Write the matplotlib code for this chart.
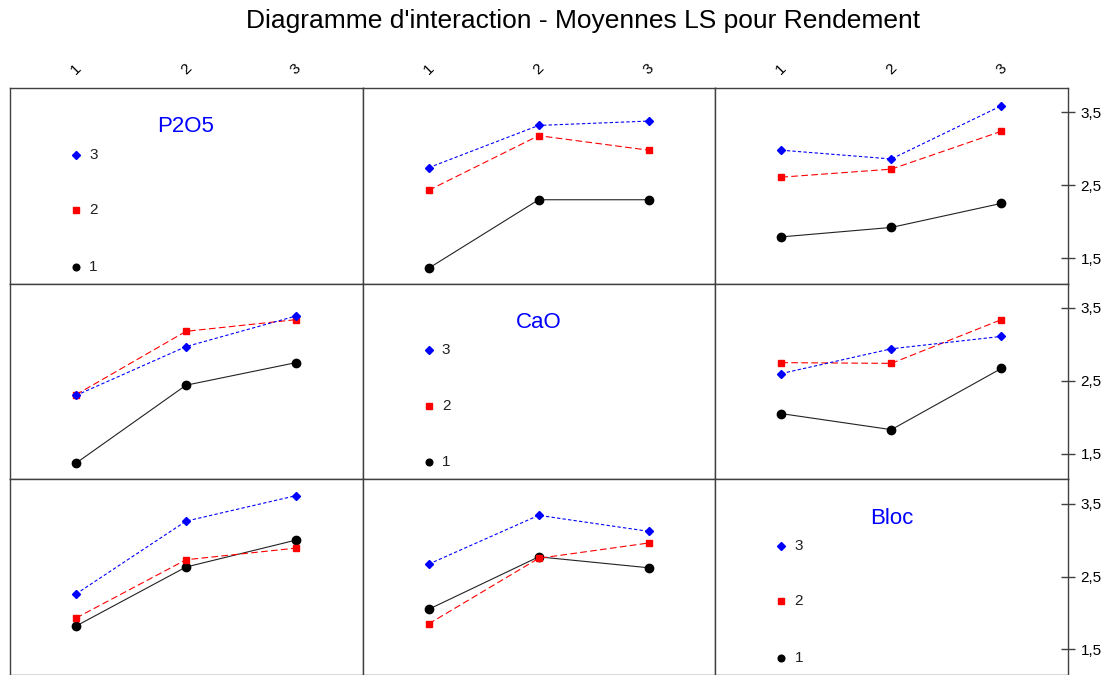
import matplotlib
matplotlib.use("Agg")
from matplotlib import pyplot as plt

plt.rcParams['font.family'] = ['Liberation Sans', 'DejaVu Sans']

factors = ['P2O5', 'CaO', 'Bloc']
levels = ['1', '2', '3']
yticks = [1.5, 2.5, 3.5]
ytick_labels = ['1,5', '2,5', '3,5']

# LS means: means[(row, col)] = series per level of row factor, x = level of column factor
means = {
    (0, 1): {'1': [1.36, 2.30, 2.30], '2': [2.43, 3.18, 2.98], '3': [2.74, 3.32, 3.38]},
    (0, 2): {'1': [1.79, 1.92, 2.25], '2': [2.61, 2.72, 3.24], '3': [2.98, 2.86, 3.59]},
    (1, 0): {'1': [1.37, 2.44, 2.75], '2': [2.31, 3.18, 3.34], '3': [2.30, 2.97, 3.39]},
    (1, 2): {'1': [2.05, 1.83, 2.67], '2': [2.75, 2.74, 3.34], '3': [2.60, 2.94, 3.11]},
    (2, 0): {'1': [1.82, 2.63, 3.00], '2': [1.93, 2.73, 2.89], '3': [2.26, 3.26, 3.61]},
    (2, 1): {'1': [2.05, 2.77, 2.62], '2': [1.85, 2.75, 2.96], '3': [2.67, 3.34, 3.12]},
}

styles = {
    '1': dict(color='#222222', ls='-', marker='o', ms=6, mfc='black', mec='black'),
    '2': dict(color='red', ls=(0, (6, 3)), marker='s', ms=5, mfc='red', mec='red'),
    '3': dict(color='blue', ls=(0, (3, 2)), marker='D', ms=4.5, mfc='blue', mec='blue'),
}
legend_y = {'1': 1.38, '2': 2.16, '3': 2.92}

fig = plt.figure(figsize=(11.05, 6.75), dpi=100)
W, H = 1105.0, 675.0
left, right, top, bottom = 10, 1068, 88, 675
pw = (right - left) / 3.0
ph = (bottom - top) / 3.0
x = [1, 2, 3]

for r in range(3):
    for c in range(3):
        ax = fig.add_axes([(left + c * pw) / W, 1 - (top + (r + 1) * ph) / H, pw / W, ph / H])
        ax.set_xlim(0.4, 3.606)
        ax.set_ylim(1.148, 3.834)
        for s in ax.spines.values():
            s.set_color('#404040')
            s.set_linewidth(1)
        if r == c:
            ax.text(2.0, 3.30, factors[r], color='blue', fontsize=16, ha='center', va='center')
            for lv in levels:
                st = styles[lv]
                ax.plot([1], [legend_y[lv]], ls='none', marker=st['marker'],
                        ms=st['ms'] * 0.8, color=st['mfc'])
                ax.text(1.12, legend_y[lv], lv, fontsize=11, ha='left', va='center', color='#202020')
        else:
            for lv in levels:
                st = styles[lv]
                ax.plot(x, means[(r, c)][lv], lw=0.8, **st)
        # top labels
        if r == 0:
            ax.xaxis.tick_top()
            ax.set_xticks(x)
            ax.set_xticklabels(levels, rotation=45, fontsize=11)
            ax.tick_params(axis='x', length=0, pad=8)
        else:
            ax.set_xticks([])
        # right labels
        if c == 2:
            ax.yaxis.tick_right()
            ax.set_yticks(yticks)
            ax.set_yticklabels(ytick_labels, fontsize=11)
            ax.tick_params(axis='y', direction='inout', length=10, width=1, color='#404040', pad=4)
        else:
            ax.set_yticks([])

fig.suptitle("Diagramme d'interaction - Moyennes LS pour Rendement", x=0.528, y=0.969,
             va='center', fontsize=19)
fig.savefig('out.png', dpi=100)
